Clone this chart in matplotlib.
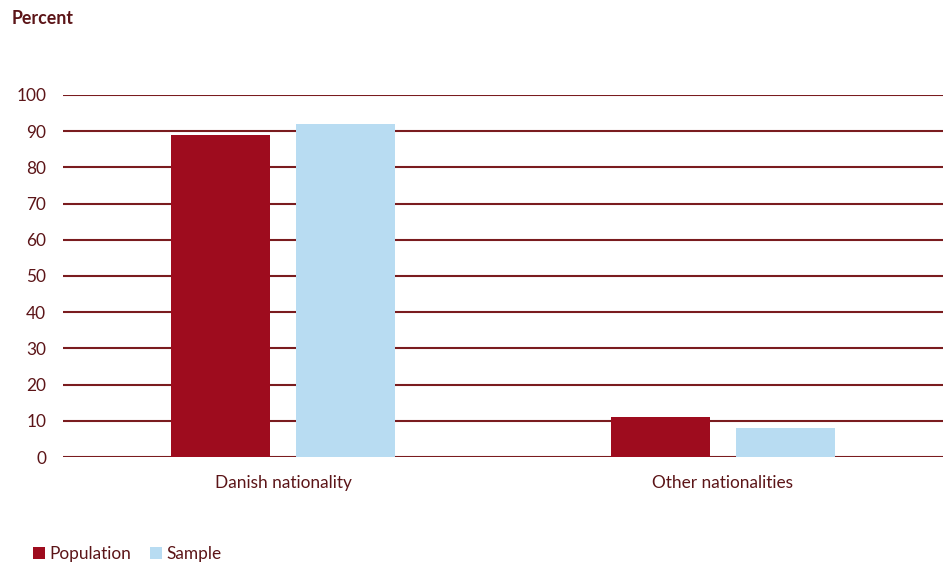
import matplotlib.pyplot as plt
import numpy as np

categories = ['Danish nationality', 'Other nationalities']
population = [89, 11]
sample = [92, 8]
yticks = [0, 10, 20, 30, 40, 50, 60, 70, 80, 90, 100]

text_col = '#5c1518'
grid_col = '#7a1c1f'
pop_col = '#9e0c1e'
samp_col = '#b8dcf2'

plt.rcParams['font.family'] = ['Lato', 'DejaVu Sans']

fig = plt.figure(figsize=(9.52, 5.68), dpi=100)
ax = fig.add_axes([63 / 952, 1 - 457 / 568, 880 / 952, 362 / 568])

x = np.arange(len(categories))
w = 0.225
ax.bar(x - 0.142, population, w, color=pop_col, zorder=3, label='Population')
ax.bar(x + 0.143, sample, w, color=samp_col, zorder=3, label='Sample')

ax.set_xlim(-0.5, 1.5)
ax.set_ylim(0, 100)
ax.set_yticks(yticks)
for t in yticks:
    ax.axhline(t, color=grid_col, lw=1.5, zorder=2)
ax.set_xticks(x)
ax.set_xticklabels(categories)
ax.tick_params(length=0, labelsize=12.4, labelcolor=text_col)
ax.tick_params(axis='x', pad=13)
ax.tick_params(axis='y', pad=12)
for s in ax.spines.values():
    s.set_visible(False)

fig.text(12 / 952, 1 - 19 / 568, 'Percent', fontsize=12.8, fontweight='bold',
         color=text_col, va='center', ha='left')

fig.legend(loc='center left', bbox_to_anchor=(33 / 952, 1 - 554 / 568), ncol=2,
           frameon=False, fontsize=12.4, labelcolor=text_col, borderpad=0,
           borderaxespad=0, handlelength=0.7, handleheight=0.7,
           handletextpad=0.25, columnspacing=1.1)

fig.savefig('out.png', dpi=100)
